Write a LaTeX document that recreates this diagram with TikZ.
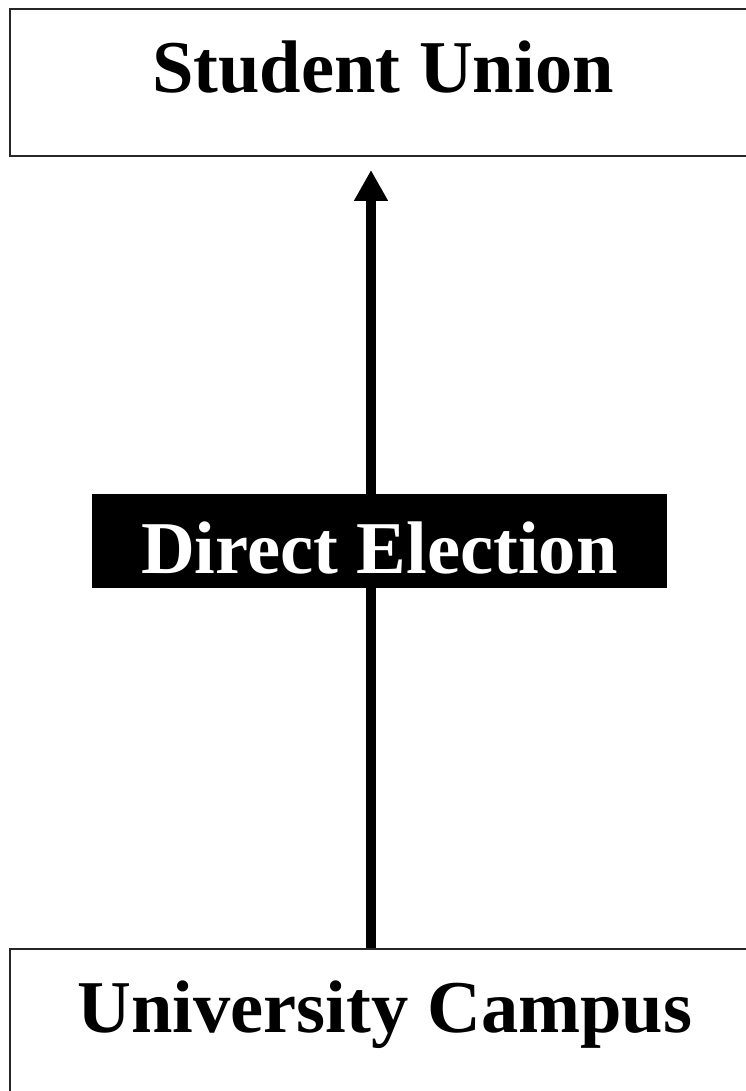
\documentclass[tikz,border=0pt]{standalone}
\usepackage{fontspec}
\setmainfont{Liberation Serif}
\usetikzlibrary{arrows.meta}
\begin{document}
\begin{tikzpicture}[x=1pt,y=1pt,
  boxnode/.style={draw=black!85, line width=2pt, fill=white, inner sep=0pt,
    font=\fontsize{74.5}{80}\selectfont\bfseries},
  labelnode/.style={fill=black, text=white, inner sep=0pt,
    font=\fontsize{74.5}{80}\selectfont\bfseries},
  arrowline/.style={line width=10pt, -{Triangle[width=32pt,length=31pt]}}]
\useasboundingbox (0,0) rectangle (746,-1091);
\node[boxnode, minimum width=746pt, minimum height=147pt, text height=60pt, text depth=39pt]
  (su) at (383,-82.5) {Student Union};
\node[boxnode, minimum width=750pt, minimum height=151pt, text height=60pt, text depth=45pt]
  (uc) at (385,-1024.5) {University Campus};
\coordinate (ax) at (371,0);
\draw[arrowline, shorten >=13pt] (uc.north -| ax) -- (su.south -| ax);
\node[labelnode, minimum width=574.7pt, minimum height=94pt, text height=64pt, text depth=0pt]
  (de) at (379.3,-541) {Direct Election};
\end{tikzpicture}
\end{document}
